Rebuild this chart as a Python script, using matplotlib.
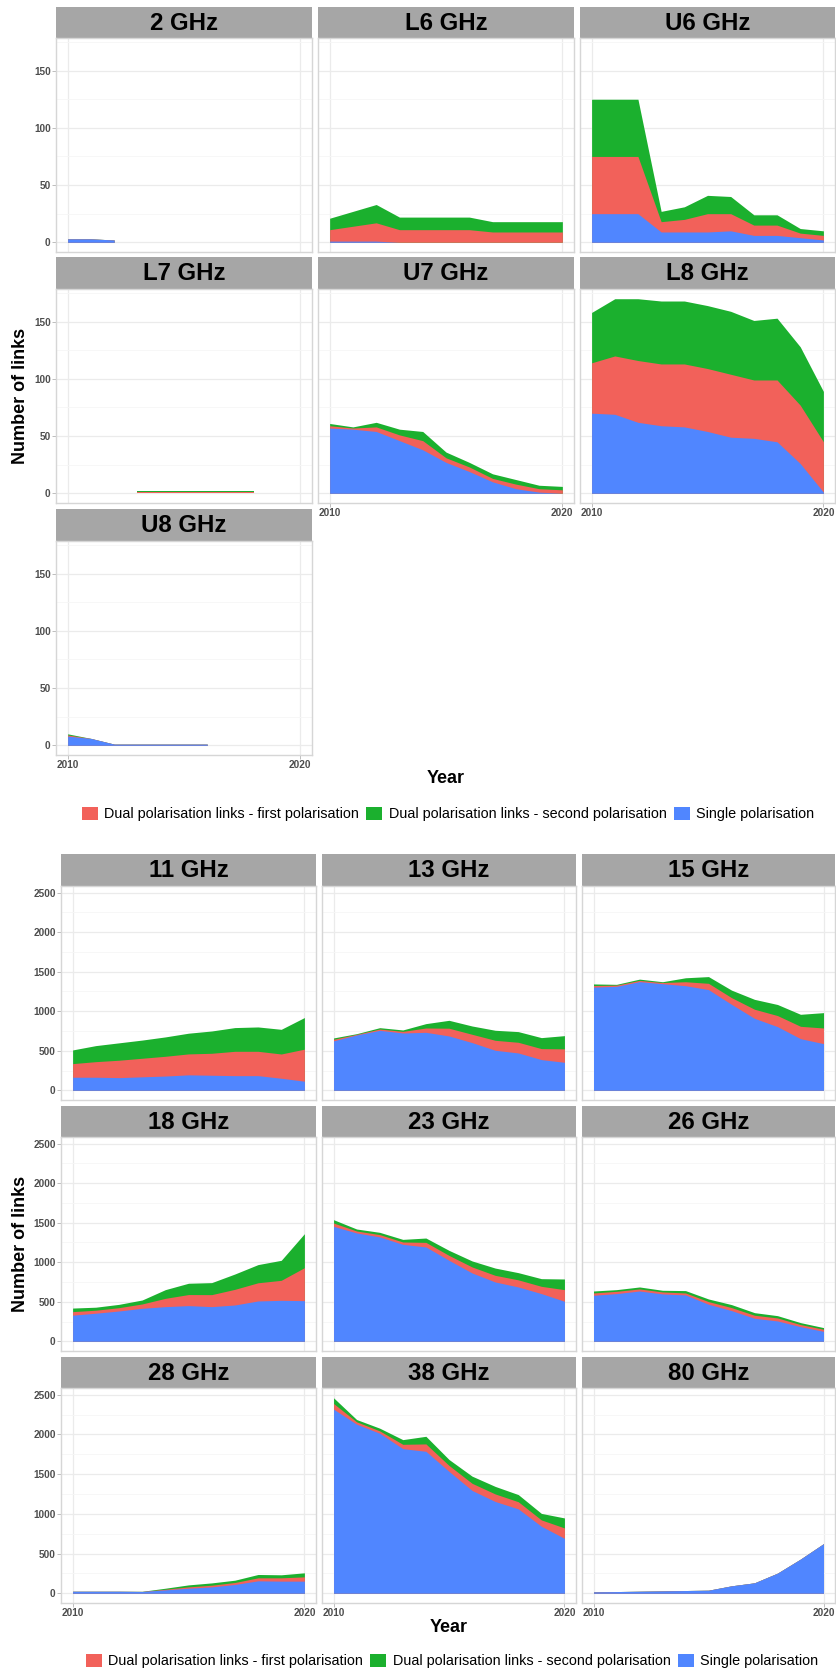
#!/usr/bin/env python3
"""
plot.py
Stacked area charts of fixed microwave link counts per frequency band, 2010-2020,
split by polarisation type. Two faceted blocks: lower bands and upper bands.
"""

import numpy as np
import matplotlib.pyplot as plt
from matplotlib.patches import Patch

W, H = 836, 1673

YEARS = [2010, 2011, 2012, 2013, 2014, 2015, 2016, 2017, 2018, 2019, 2020]

LOW_BANDS = ["2 GHz", "L6 GHz", "U6 GHz", "L7 GHz", "U7 GHz", "L8 GHz", "U8 GHz"]
HIGH_BANDS = ["11 GHz", "13 GHz", "15 GHz", "18 GHz", "23 GHz", "26 GHz",
              "28 GHz", "38 GHz", "80 GHz"]

# None = no links recorded that year
SINGLE = {
    "2 GHz": [3, 3, 2, None, None, None, None, None, None, None, None],
    "L6 GHz": [1, 1, 1, 0, 0, 0, 0, 0, 0, 0, 0],
    "U6 GHz": [25, 25, 25, 9, 9, 9, 10, 6, 6, 4, 2],
    "L7 GHz": [None, None, None, 0, 0, 0, 0, 0, 0, None, None],
    "U7 GHz": [57, 56, 54, 46, 38, 27, 19, 10, 4, 1, 0],
    "L8 GHz": [70, 69, 62, 59, 58, 54, 49, 48, 45, 26, 1],
    "U8 GHz": [8, 6, 1, 1, 1, 1, 1, None, None, None, None],
    "11 GHz": [165, 165, 160, 170, 180, 195, 190, 185, 185, 152, 115],
    "13 GHz": [625, 700, 758, 725, 733, 687, 603, 506, 472, 388, 354],
    "15 GHz": [1305, 1315, 1374, 1348, 1323, 1273, 1087, 910, 805, 653, 590],
    "18 GHz": [330, 355, 383, 417, 438, 451, 438, 459, 510, 518, 514],
    "23 GHz": [1454, 1370, 1320, 1226, 1193, 1024, 864, 750, 687, 603, 506],
    "26 GHz": [582, 603, 636, 599, 586, 468, 388, 291, 257, 185, 126],
    "28 GHz": [25, 25, 25, 22, 42, 63, 80, 110, 156, 152, 152],
    "38 GHz": [2318, 2128, 2014, 1820, 1787, 1534, 1294, 1155, 1062, 843, 691],
    "80 GHz": [17, 21, 25, 29, 34, 38, 93, 131, 253, 430, 624],
}

DUAL_FIRST = {
    "2 GHz": [0, 0, 0, None, None, None, None, None, None, None, None],
    "L6 GHz": [10, 13, 16, 11, 11, 11, 11, 9, 9, 9, 9],
    "U6 GHz": [50, 50, 50, 9, 11, 16, 15, 9, 9, 4, 4],
    "L7 GHz": [None, None, None, 1, 1, 1, 1, 1, 1, None, None],
    "U7 GHz": [2, 1, 4, 5, 8, 4, 4, 3, 4, 3, 3],
    "L8 GHz": [44, 51, 54, 54, 55, 55, 55, 51, 54, 51, 44],
    "U8 GHz": [1, 0, 0, 0, 0, 0, 0, None, None, None, None],
    "11 GHz": [172, 197, 220, 235, 250, 265, 278, 308, 308, 307, 405],
    "13 GHz": [20, 8, 17, 20, 55, 98, 105, 126, 135, 139, 170],
    "15 GHz": [20, 15, 16, 15, 50, 80, 85, 115, 140, 156, 198],
    "18 GHz": [45, 38, 42, 55, 105, 140, 152, 198, 230, 253, 417],
    "23 GHz": [42, 25, 29, 30, 58, 62, 76, 84, 90, 92, 147],
    "26 GHz": [29, 29, 26, 25, 25, 34, 38, 38, 38, 26, 26],
    "28 GHz": [0, 0, 0, 1, 8, 17, 21, 25, 38, 42, 54],
    "38 GHz": [71, 30, 30, 55, 93, 75, 90, 95, 90, 80, 131],
    "80 GHz": [0, 0, 0, 0, 0, 0, 0, 0, 0, 0, 0],
}

DUAL_SECOND = {
    "2 GHz": [0, 0, 0, None, None, None, None, None, None, None, None],
    "L6 GHz": [10, 13, 16, 11, 11, 11, 11, 9, 9, 9, 9],
    "U6 GHz": [50, 50, 50, 9, 11, 16, 15, 9, 9, 4, 4],
    "L7 GHz": [None, None, None, 1, 1, 1, 1, 1, 1, None, None],
    "U7 GHz": [2, 1, 4, 5, 8, 5, 4, 4, 4, 3, 3],
    "L8 GHz": [44, 50, 54, 55, 55, 55, 55, 52, 54, 51, 44],
    "U8 GHz": [1, 0, 0, 0, 0, 0, 0, None, None, None, None],
    "11 GHz": [173, 203, 220, 230, 245, 262, 282, 300, 308, 312, 400],
    "13 GHz": [17, 8, 17, 18, 55, 100, 105, 127, 135, 139, 167],
    "15 GHz": [20, 10, 16, 10, 50, 85, 95, 125, 140, 152, 194],
    "18 GHz": [45, 38, 42, 50, 110, 143, 152, 194, 230, 253, 430],
    "23 GHz": [42, 25, 29, 33, 55, 64, 76, 92, 91, 97, 135],
    "26 GHz": [25, 21, 25, 21, 30, 33, 38, 33, 29, 25, 21],
    "28 GHz": [0, 0, 0, 1, 13, 25, 29, 29, 42, 38, 51],
    "38 GHz": [72, 29, 34, 59, 96, 75, 90, 95, 90, 82, 126],
    "80 GHz": [0, 0, 0, 0, 0, 0, 0, 0, 0, 0, 0],
}

SERIES_LABELS = ["Dual polarisation links - first polarisation",
                 "Dual polarisation links - second polarisation",
                 "Single polarisation"]
RED, GREEN, BLUE = "#F2615A", "#1BB02E", "#5086FF"

STRIP_GREY = "#A6A6A6"
BORDER_GREY = "#D6D6D6"
GRID_MAJOR = "#EBEBEB"
GRID_MINOR = "#F6F6F6"


def fig_rect(left, top, right, bottom):
    """Pixel box -> figure fraction rect."""
    return [left / W, 1 - bottom / H, (right - left) / W, (bottom - top) / H]


def stacked(band):
    years = np.array(YEARS, dtype=float)
    s = np.array(SINGLE[band], dtype=float)
    d1 = np.array(DUAL_FIRST[band], dtype=float)
    d2 = np.array(DUAL_SECOND[band], dtype=float)
    ok = ~np.isnan(s)
    return years[ok], s[ok], d1[ok], d2[ok]


def data_ylim(bands):
    top = max(np.nanmax(np.array(SINGLE[b], dtype=float)
                        + np.array(DUAL_FIRST[b], dtype=float)
                        + np.array(DUAL_SECOND[b], dtype=float)) for b in bands)
    pad = 0.05 * top
    return -pad, top + pad


def draw_block(fig, bands, cols, rows, ylim, major, minor, xlabel_idx):
    for i, band in enumerate(bands):
        c0, c1 = cols[i % 3]
        s_top, p_top, p_bot = rows[i // 3]

        strip = fig.add_axes(fig_rect(c0, s_top, c1, p_top))
        strip.set_facecolor(STRIP_GREY)
        strip.set_xticks([])
        strip.set_yticks([])
        for sp in strip.spines.values():
            sp.set_visible(False)
        strip.text(0.5, 0.47, band, ha="center", va="center", fontsize=17.3,
                   fontweight="bold", color="black", transform=strip.transAxes)

        ax = fig.add_axes(fig_rect(c0, p_top, c1, p_bot))
        x, s, d1, d2 = stacked(band)
        # paint totals first so the layers overlap without seams
        ax.fill_between(x, 0, s + d1 + d2, color=GREEN, lw=0)
        ax.fill_between(x, 0, s + d1, color=RED, lw=0)
        ax.fill_between(x, 0, s, color=BLUE, lw=0)

        ax.set_xlim(2009.5, 2020.5)
        ax.set_ylim(*ylim)
        ax.set_xticks([2010, 2020])
        ax.set_yticks(major)
        ax.set_yticks(minor, minor=True)
        ax.grid(which="major", color=GRID_MAJOR, lw=0.9)
        ax.grid(which="minor", axis="y", color=GRID_MINOR, lw=0.6)
        ax.set_axisbelow(True)
        for sp in ax.spines.values():
            sp.set_color(BORDER_GREY)
            sp.set_linewidth(1.0)

        ax.tick_params(which="both", length=2.6, width=0.6, color="#B3B3B3",
                       pad=1.2, labelsize=7.2, labelcolor="#4D4D4D")
        ax.tick_params(which="minor", length=0)
        ax.tick_params(axis="y", labelleft=(i % 3 == 0), left=(i % 3 == 0))
        ax.tick_params(axis="x", labelbottom=(i in xlabel_idx),
                       bottom=(i in xlabel_idx))


def add_labels(fig, ylab_y, xlab_x, xlab_y, legend_x, legend_y):
    fig.text(21 / W, 1 - ylab_y / H, "Number of links", rotation=90,
             ha="center", va="center", fontsize=13, fontweight="bold")
    fig.text(xlab_x / W, 1 - xlab_y / H, "Year", ha="center", va="center",
             fontsize=13, fontweight="bold")
    handles = [Patch(facecolor=c, edgecolor="none") for c in (RED, GREEN, BLUE)]
    fig.legend(handles, SERIES_LABELS, loc="center",
               bbox_to_anchor=(legend_x / W, 1 - legend_y / H), ncol=3,
               frameon=False, handlelength=1.1, handleheight=1.1,
               handletextpad=0.45, columnspacing=0.5, borderpad=0,
               borderaxespad=0, prop={"size": 10.4, "weight": "normal"})


def main():
    plt.rcParams["font.family"] = ["Liberation Sans", "DejaVu Sans"]
    plt.rcParams["font.weight"] = "bold"

    fig = plt.figure(figsize=(W / 100, H / 100), dpi=100)

    # lower bands
    draw_block(fig, LOW_BANDS,
               cols=[(56, 312), (318, 574), (580, 835)],
               rows=[(7, 38, 252), (257, 289, 503), (509, 541, 755)],
               ylim=data_ylim(LOW_BANDS),
               major=[0, 50, 100, 150], minor=[25, 75, 125, 175],
               xlabel_idx={4, 5, 6})
    add_labels(fig, ylab_y=396, xlab_x=446, xlab_y=779, legend_x=448, legend_y=814)

    # upper bands
    draw_block(fig, HIGH_BANDS,
               cols=[(61, 316), (322, 576), (582, 835)],
               rows=[(854, 886, 1100), (1106, 1137, 1351), (1357, 1388, 1603)],
               ylim=data_ylim(HIGH_BANDS),
               major=[0, 500, 1000, 1500, 2000, 2500],
               minor=[250, 750, 1250, 1750, 2250],
               xlabel_idx={6, 7, 8})
    add_labels(fig, ylab_y=1244, xlab_x=449, xlab_y=1627, legend_x=452, legend_y=1661)

    fig.savefig("out.png", dpi=100, facecolor="white")
    plt.close(fig)


if __name__ == "__main__":
    main()
